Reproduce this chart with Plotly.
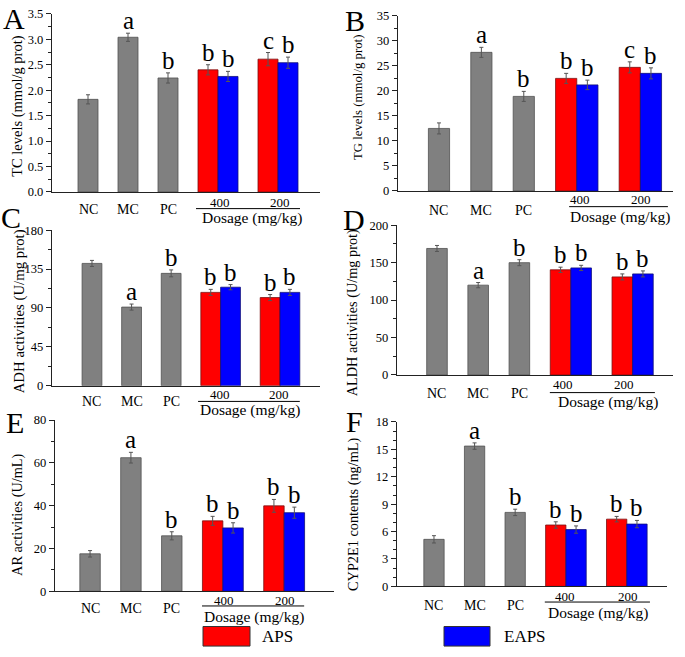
import plotly.graph_objects as go

W, H = 685, 657
FONT = "Liberation Serif, Times New Roman, serif"

# ---------------- data ----------------
ctrl_labels = ["NC", "MC", "PC"]
dose_labels = ["400", "200"]
series_names = ["APS", "EAPS"]

# bar slots: controls, then APS / EAPS pairs for 400 and 200 mg/kg
ctrl_pos = [1, 2, 3]
aps_pos = [4, 5.5]
eaps_pos = [4.5, 6]

# A: TC levels
tc_ctrl = [1.82, 3.04, 2.24]
tc_ctrl_err = [0.09, 0.08, 0.10]
tc_aps = [2.40, 2.61]
tc_aps_err = [0.10, 0.13]
tc_eaps = [2.27, 2.54]
tc_eaps_err = [0.10, 0.11]
tc_sig_ctrl = ["", "a", "b"]
tc_sig_aps = ["b", "c"]
tc_sig_eaps = ["b", "b"]

# B: TG levels
tg_ctrl = [12.5, 27.7, 18.9]
tg_ctrl_err = [1.1, 1.0, 1.0]
tg_aps = [22.5, 24.7]
tg_aps_err = [1.0, 1.1]
tg_eaps = [21.2, 23.5]
tg_eaps_err = [0.95, 1.1]
tg_sig_ctrl = ["", "a", "b"]
tg_sig_aps = ["b", "c"]
tg_sig_eaps = ["b", "b"]

# C: ADH activities
adh_ctrl = [141.5, 91.0, 130.0]
adh_ctrl_err = [3.5, 3.5, 4.0]
adh_aps = [108.0, 102.0]
adh_aps_err = [3.5, 3.5]
adh_eaps = [114.0, 108.0]
adh_eaps_err = [3.0, 3.5]
adh_sig_ctrl = ["", "a", "b"]
adh_sig_aps = ["b", "b"]
adh_sig_eaps = ["b", "b"]

# D: ALDH activities
aldh_ctrl = [169.0, 120.0, 150.0]
aldh_ctrl_err = [4.0, 3.5, 4.0]
aldh_aps = [140.5, 131.0]
aldh_aps_err = [3.5, 4.0]
aldh_eaps = [143.0, 135.0]
aldh_eaps_err = [3.5, 4.0]
aldh_sig_ctrl = ["", "a", "b"]
aldh_sig_aps = ["b", "b"]
aldh_sig_eaps = ["b", "b"]

# E: AR activities
ar_ctrl = [17.5, 62.4, 25.9]
ar_ctrl_err = [1.5, 2.5, 1.9]
ar_aps = [32.9, 39.9]
ar_aps_err = [2.1, 3.0]
ar_eaps = [29.6, 36.7]
ar_eaps_err = [2.4, 2.6]
ar_sig_ctrl = ["", "a", "b"]
ar_sig_aps = ["b", "b"]
ar_sig_eaps = ["b", "b"]

# F: CYP2E1 contents
cyp_ctrl = [5.15, 15.36, 8.1]
cyp_ctrl_err = [0.4, 0.35, 0.35]
cyp_aps = [6.72, 7.36]
cyp_aps_err = [0.35, 0.3]
cyp_eaps = [6.22, 6.82]
cyp_eaps_err = [0.4, 0.4]
cyp_sig_ctrl = ["", "a", "b"]
cyp_sig_aps = ["b", "b"]
cyp_sig_eaps = ["b", "b"]

# ---------------- layout per panel (pixel geometry) ----------------
panels = [
    dict(tag="A", ylab="TC levels (mmol/g prot)", tsize=14.5,
         data=(tc_ctrl, tc_ctrl_err, tc_aps, tc_aps_err, tc_eaps, tc_eaps_err),
         sig=(tc_sig_ctrl, tc_sig_aps, tc_sig_eaps),
         box=(52, 320, 7, 189), xr=(0.1, 6.8), yr=(0, 3.5), dt=0.5, mdt=0.25, fmt=".1f",
         tx=18, ty=101, l400=4.3, l200=5.8, line=(3.7, 6.3), dos=5.1,
         yl=(207, 200, 206, 216), let=(14, 12)),
    dict(tag="B", ylab="TG levels (mmol/g prot)", tsize=12.8,
         data=(tg_ctrl, tg_ctrl_err, tg_aps, tg_aps_err, tg_eaps, tg_eaps_err),
         sig=(tg_sig_ctrl, tg_sig_aps, tg_sig_eaps),
         box=(398, 673, 9, 188), xr=(0.033, 6.52), yr=(0, 35), dt=5, mdt=2.5, fmt="d",
         tx=358, ty=93, l400=4.33, l200=5.77, line=(4.07, 6.4), dos=5.27,
         yl=(208, 197, 204, 215), let=(355, 14)),
    dict(tag="C", ylab="ADH activities (U/mg prot)", tsize=14.8,
         data=(adh_ctrl, adh_ctrl_err, adh_aps, adh_aps_err, adh_eaps, adh_eaps_err),
         sig=(adh_sig_ctrl, adh_sig_aps, adh_sig_eaps),
         box=(52, 320, 228, 387), xr=(-0.01, 6.76), yr=(0, 180), dt=45, mdt=22.5, fmt="d",
         tx=19, ty=311, l400=4.23, l200=5.72, line=(3.68, 6.25), dos=5.0,
         yl=(403, 396, 403, 412), let=(11, 215)),
    dict(tag="D", ylab="ALDH activities (U/mg prot)", tsize=14.3,
         data=(aldh_ctrl, aldh_ctrl_err, aldh_aps, aldh_aps_err, aldh_eaps, aldh_eaps_err),
         sig=(aldh_sig_ctrl, aldh_sig_aps, aldh_sig_eaps),
         box=(397, 673, 223, 376), xr=(0.029, 6.73), yr=(0, 200), dt=50, mdt=25, fmt="d",
         tx=352, ty=313, l400=4.06, l200=5.54, line=(3.74, 6.29), dos=5.15,
         yl=(395, 386, 394, 404), let=(354, 217)),
    dict(tag="E", ylab="AR activities (U/mL)", tsize=14.3,
         data=(ar_ctrl, ar_ctrl_err, ar_aps, ar_aps_err, ar_eaps, ar_eaps_err),
         sig=(ar_sig_ctrl, ar_sig_aps, ar_sig_eaps),
         box=(55, 334, 422, 597), xr=(0.142, 6.97), yr=(0, 80), dt=20, mdt=10, fmt="d",
         tx=18, ty=519, l400=4.28, l200=5.78, line=(3.74, 6.24), dos=5.02,
         yl=(615, 606, 612, 623), let=(15, 425)),
    dict(tag="F", ylab="CYP2E1 contents (ng/mL)", tsize=14.3,
         data=(cyp_ctrl, cyp_ctrl_err, cyp_aps, cyp_aps_err, cyp_eaps, cyp_eaps_err),
         sig=(cyp_sig_ctrl, cyp_sig_aps, cyp_sig_eaps),
         box=(397, 667, 424, 592), xr=(0.089, 6.74), yr=(0, 18), dt=3, mdt=1, fmt="d",
         tx=354, ty=518, l400=4.23, l200=5.78, line=(3.73, 6.32), dos=5.04,
         yl=(612, 602, 608, 619), let=(354, 424)),
]

GRAY, RED, BLUE = "#808080", "#ff0000", "#0000ff"
ERR = dict(type="data", color="#555555", thickness=1, width=2)


def px(x):
    return x / W


def py(y):
    return 1 - y / H


fig = go.Figure()
annotations = []
shapes = []
layout_axes = {}

for i, p in enumerate(panels, start=1):
    xa = "x" if i == 1 else f"x{i}"
    ya = "y" if i == 1 else f"y{i}"
    ctrl, ctrl_e, aps, aps_e, eaps, eaps_e = p["data"]
    s_ctrl, s_aps, s_eaps = p["sig"]
    L, R, T, B = p["box"]

    for pos, vals, errs, col, lc, sig in [
        (ctrl_pos, ctrl, ctrl_e, GRAY, "#505050", s_ctrl),
        (aps_pos, aps, aps_e, RED, "#7a1010", s_aps),
        (eaps_pos, eaps, eaps_e, BLUE, "#10107a", s_eaps),
    ]:
        fig.add_trace(go.Bar(
            x=pos, y=vals, width=0.5, xaxis=xa, yaxis=ya,
            marker=dict(color=col, line=dict(color=lc, width=0.8)),
            error_y=dict(array=errs, **ERR), showlegend=False, hoverinfo="skip",
        ))
        for xv, v, e, s in zip(pos, vals, errs, sig):
            if s:
                annotations.append(dict(
                    x=xv, y=v + e, xref=xa, yref=ya, text=s, showarrow=False,
                    yanchor="bottom", yshift=-3,
                    font=dict(family=FONT, size=25, color="black")))

    xkey = "xaxis" if i == 1 else f"xaxis{i}"
    ykey = "yaxis" if i == 1 else f"yaxis{i}"
    layout_axes[xkey] = dict(
        domain=[px(L), px(R)], range=list(p["xr"]), anchor=ya,
        showline=True, linecolor="#222", linewidth=1.3, showgrid=False,
        zeroline=False, showticklabels=False, ticks="")
    layout_axes[ykey] = dict(
        domain=[py(B), py(T)], range=list(p["yr"]), anchor=xa,
        showline=True, linecolor="#222", linewidth=1.3, showgrid=False,
        zeroline=False, ticks="outside", ticklen=5, tickwidth=1, tickcolor="#222",
        dtick=p["dt"], tick0=0, tickformat=p["fmt"],
        tickfont=dict(family=FONT, size=12.5, color="black"),
        minor=dict(dtick=p["mdt"], ticks="outside", ticklen=3, tickcolor="#222"))

    yc, y4, yline, ydos = p["yl"]
    for lab, xv in zip(ctrl_labels, ctrl_pos):
        annotations.append(dict(x=xv, y=py(yc), xref=xa, yref="paper", text=lab,
                                showarrow=False, yanchor="middle",
                                font=dict(family=FONT, size=14, color="black")))
    for lab, xv in zip(dose_labels, [p["l400"], p["l200"]]):
        annotations.append(dict(x=xv, y=py(y4), xref=xa, yref="paper", text=lab,
                                showarrow=False, yanchor="middle",
                                font=dict(family=FONT, size=13, color="black")))
    annotations.append(dict(x=p["dos"], y=py(ydos), xref=xa, yref="paper",
                            text="Dosage (mg/kg)", showarrow=False, yanchor="middle",
                            font=dict(family=FONT, size=15.5, color="black")))
    shapes.append(dict(type="line", xref=xa, yref="paper",
                       x0=p["line"][0], x1=p["line"][1], y0=py(yline), y1=py(yline),
                       line=dict(color="black", width=1)))
    # axis title
    annotations.append(dict(x=px(p["tx"]), y=py(p["ty"]), xref="paper", yref="paper",
                            text=p["ylab"], textangle=-90, showarrow=False,
                            xanchor="center", yanchor="middle",
                            font=dict(family=FONT, size=p["tsize"], color="black")))
    # panel letter
    annotations.append(dict(x=px(p["let"][0]), y=py(p["let"][1]), xref="paper", yref="paper",
                            text=p["tag"], showarrow=False, xanchor="center", yanchor="middle",
                            font=dict(family=FONT, size=30, color="black")))

# legend drawn as boxes + labels
legend_items = [(series_names[0], RED, 203, 250, 260), (series_names[1], BLUE, 444, 490, 502)]
for name, col, x0, x1, xt in legend_items:
    shapes.append(dict(type="rect", xref="paper", yref="paper",
                       x0=px(x0), x1=px(x1), y0=py(653), y1=py(633),
                       fillcolor=col, line=dict(color="#333", width=1)))
    annotations.append(dict(x=px(xt), y=py(643), xref="paper", yref="paper", text=name,
                            showarrow=False, xanchor="left", yanchor="middle",
                            font=dict(family=FONT, size=17, color="black")))

fig.update_layout(
    width=W, height=H, margin=dict(l=0, r=0, t=0, b=0),
    paper_bgcolor="white", plot_bgcolor="white",
    barmode="overlay", annotations=annotations, shapes=shapes,
    font=dict(family=FONT, color="black"), hovermode=False,
    **layout_axes,
)

fig.write_html("out.html", config={"displayModeBar": False},
               post_script="document.body.style.margin='0';document.body.style.overflow='hidden';")
